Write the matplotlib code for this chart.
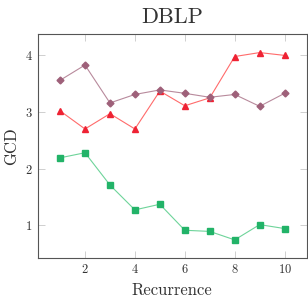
import matplotlib
matplotlib.use("Agg")
import matplotlib.pyplot as plt

plt.rcParams['font.family'] = 'cmr10'
plt.rcParams['mathtext.fontset'] = 'cm'
plt.rcParams['axes.formatter.use_mathtext'] = True

recurrence = [1, 2, 3, 4, 5, 6, 7, 8, 9, 10]
gcd_red = [3.02, 2.70, 2.97, 2.70, 3.37, 3.11, 3.25, 3.98, 4.05, 4.00]
gcd_purple = [3.56, 3.83, 3.16, 3.31, 3.39, 3.33, 3.26, 3.31, 3.10, 3.33]
gcd_green = [2.19, 2.28, 1.71, 1.27, 1.37, 0.91, 0.89, 0.74, 1.01, 0.94]

fig = plt.figure(figsize=(3.08, 3.0), dpi=100)
ax = fig.add_axes([0.122, 0.14, 0.875, 0.747])

ax.plot(recurrence, gcd_red, color='#ff6b6b', lw=0.8, marker='^', ms=4.5,
        mfc='#ee2233', mec='#ee2233')
ax.plot(recurrence, gcd_purple, color='#b88a9c', lw=0.8, marker='D', ms=3.5,
        mfc='#9e6079', mec='#9e6079')
ax.plot(recurrence, gcd_green, color='#6ed49a', lw=0.8, marker='s', ms=4.2,
        mfc='#22b368', mec='#22b368')

ax.set_xlim(0.1, 10.9)
ax.set_ylim(0.42, 4.38)
ax.set_xticks([2, 4, 6, 8, 10])
ax.set_yticks([1, 2, 3, 4])
ax.tick_params(direction='in', length=5, width=0.6, color='#c8c8c8',
               labelsize=9, labelcolor='#333333', top=True, right=True)
for s in ax.spines.values():
    s.set_color('#555555')
    s.set_linewidth(0.8)

ax.set_xlabel('Recurrence', fontsize=12, color='#333333', labelpad=5)
ax.set_ylabel('GCD', fontsize=12, color='#333333')
ax.set_title('DBLP', fontsize=16, color='#333333', pad=8)

fig.savefig('out.png', dpi=100)
